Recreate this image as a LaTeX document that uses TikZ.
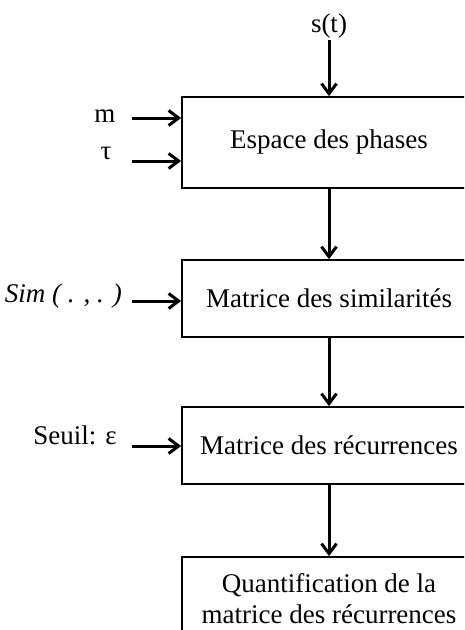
\documentclass[tikz,border=0pt]{standalone}
\usepackage{fontspec}
\setmainfont{Liberation Serif}
\usetikzlibrary{arrows.meta}
\begin{document}
\begin{tikzpicture}[x=1pt,y=-1pt,
  box/.style={draw,line width=1.8pt,minimum width=294pt,inner sep=0pt,align=center,
    font=\fontsize{27}{31}\selectfont},
  lbl/.style={inner sep=0pt,font=\fontsize{27}{31}\selectfont},
  arr/.style={line width=3pt,-{Straight Barb[length=10pt,width=15pt,line width=3pt]}}]
\clip (0,0) rectangle (464,630);
\useasboundingbox (0,0) rectangle (464,630);
\node[box,minimum height=91pt] (b1) at (329,142.5) {Espace des phases};
\node[box,minimum height=77pt] (b2) at (329,298.5) {Matrice des similarités};
\node[box,minimum height=77pt] (b3) at (329,445.5) {Matrice des récurrences};
\node[box,minimum height=84pt] (b4) at (329,599) {Quantification de la\\matrice des récurrences};
\node[lbl,anchor=base] (st) at (329,32) {s(t)};
\node[lbl,anchor=base] (m) at (105,122) {m};
\node[lbl,anchor=base] (tau) at (106,159) {τ};
\node[lbl,anchor=base east] (sim) at (122,302) {\itshape Sim ( . , . )};
\node[lbl,anchor=base east] (seuil) at (117,444) {Seuil: ε};
\coordinate (cs) at (329,40);
\coordinate (cm) at (132,118);
\coordinate (ct) at (132,161);
\coordinate (csim) at (132,301);
\coordinate (cse) at (132,446);
\draw[arr] (cs) -- (b1.north);
\draw[arr] (cm) -- (cm -| b1.west);
\draw[arr] (ct) -- (ct -| b1.west);
\draw[arr] (csim) -- (csim -| b2.west);
\draw[arr] (cse) -- (cse -| b3.west);
\draw[arr] (b1.south) -- (b2.north);
\draw[arr] (b2.south) -- (b3.north);
\draw[arr] (b3.south) -- (b4.north);
\end{tikzpicture}
\end{document}
